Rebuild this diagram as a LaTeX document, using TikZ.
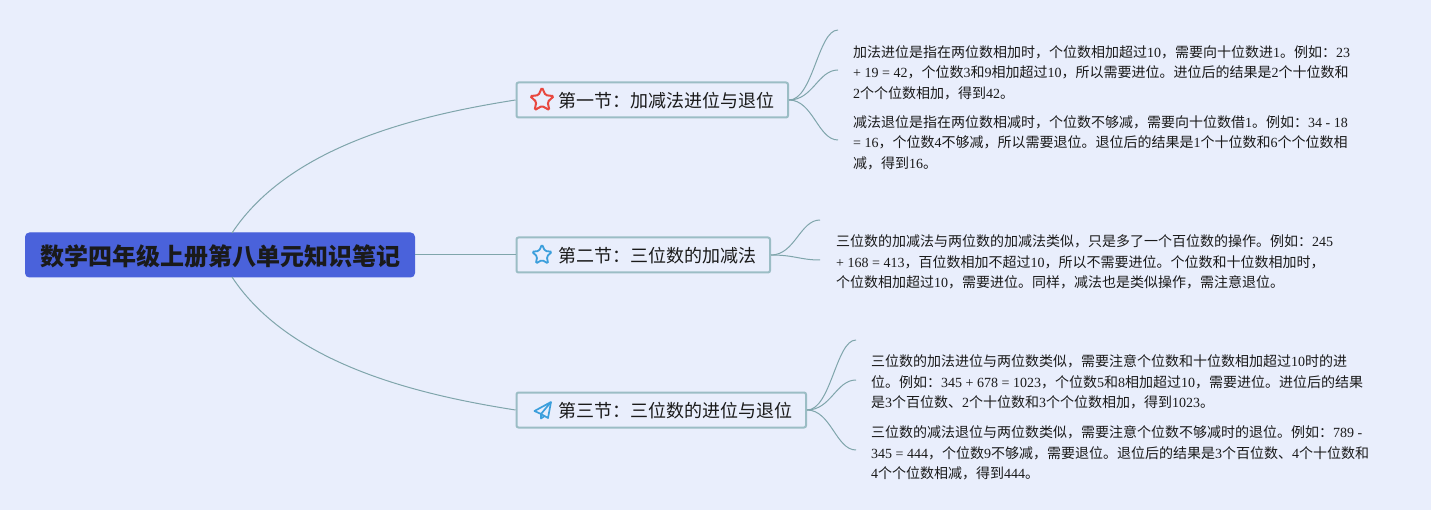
\documentclass[tikz,border=0pt]{standalone}
\usepackage{fontspec}
\setmainfont{Noto Sans CJK SC}
\newfontfamily\latinfont{Liberation Serif}
\newcommand{\latin}[1]{{\latinfont #1}}
\usepackage{xcolor}
\usepackage{tikz}
\usetikzlibrary{shapes.geometric}
\definecolor{pagebg}{HTML}{E9EEFC}
\definecolor{rootblue}{HTML}{4A62DB}
\definecolor{boxline}{HTML}{9BBDC5}
\definecolor{linkline}{HTML}{7FA5AB}
\definecolor{inkdark}{HTML}{1A1A1A}
\definecolor{starred}{HTML}{E8483F}
\definecolor{iconblue}{HTML}{3C9FDC}
\tikzset{
  root/.style = {rectangle, rounded corners=4pt, fill=rootblue, draw=rootblue, line width=1pt, minimum width=389pt, minimum height=44pt, text height=22pt, text depth=0pt, text=inkdark, font=\fontsize{24}{28}\selectfont\bfseries},
  section/.style = {rectangle, rounded corners=2pt, anchor=west, draw=boxline, line width=2pt, fill=pagebg, minimum height=35pt, text height=15.6pt, text depth=0pt, inner xsep=14pt, inner ysep=0pt, text=inkdark, font=\fontsize{18}{22}\selectfont},
  note/.style = {anchor=west, align=left, inner sep=0pt, text=inkdark, font=\fontsize{14}{20.6}\selectfont},
  link/.style = {linkline, line width=1pt},
  staricon/.style = {star, star points=5, star point ratio=2.1, rounded corners=1.5pt, inner sep=0pt, line width=2pt, fill=none}
}

\begin{document}
\begin{tikzpicture}[x=1pt,y=1pt]
\useasboundingbox[fill=pagebg] (0,0) rectangle (1431,-510);

% -- root and sections
\node[root] (R) at (220,-255) {数学四年级上册第八单元知识笔记};
\node[section] (S1) at (515.5,-100) {\hspace{27.5pt}第一节：加减法进位与退位};
\node[section] (S2) at (515.5,-255) {\hspace{27.5pt}第二节：三位数的加减法};
\node[section] (S3) at (515.5,-410) {\hspace{27.5pt}第三节：三位数的进位与退位};

% -- icons
\node[staricon, draw=starred, minimum size=25pt] (I1) at (542,-100) {};
\node[staricon, draw=iconblue, minimum size=21pt, line width=1.8pt] (I2) at (542,-255) {};
\draw[iconblue, line width=1.7pt, line join=round] (551,-402) -- (534.5,-411) -- (541,-414) -- cycle;
\draw[iconblue, line width=1.7pt, line join=round] (551,-402) -- (548,-418) -- (541,-414) -- (541,-418.5) -- (544.5,-416);

% -- free ends
\coordinate (a1) at (838,-30);
\coordinate (a2) at (838,-70);
\coordinate (a3) at (838,-140);
\coordinate (b1) at (820,-220);
\coordinate (b2) at (820,-260);
\coordinate (c1) at (856,-340);
\coordinate (c2) at (856,-380);
\coordinate (c3) at (856,-450);

% -- links
\draw[link] (R.east) -- (S2.west);
\draw[link] (232,-233) .. controls (290,-145) and (420,-115) .. (S1.west);
\draw[link] (232,-277) .. controls (290,-365) and (420,-395) .. (S3.west);

\foreach \e in {a1,a2,a3} {
  \draw[link] (S1.east) .. controls +(24,0) and +(-20,0) .. (\e);
}
\foreach \e in {b1,b2} {
  \draw[link] (S2.east) .. controls +(24,0) and +(-20,0) .. (\e);
}
\foreach \e in {c1,c2,c3} {
  \draw[link] (S3.east) .. controls +(24,0) and +(-20,0) .. (\e);
}

% -- notes
\node[note] (T1) at (853,-72.5) {加法进位是指在两位数相加时，个位数相加超过\latin{10}，需要向十位数进\latin{1}。例如：\latin{23}\\
\latin{+ 19 = 42}，个位数\latin{3}和\latin{9}相加超过\latin{10}，所以需要进位。进位后的结果是\latin{2}个十位数和\\
\latin{2}个个位数相加，得到\latin{42}。};
\node[note] (T2) at (853,-142.5) {减法退位是指在两位数相减时，个位数不够减，需要向十位数借\latin{1}。例如：\latin{34 - 18}\\
\latin{= 16}，个位数\latin{4}不够减，所以需要退位。退位后的结果是\latin{1}个十位数和\latin{6}个个位数相\\
减，得到\latin{16}。};
\node[note] (T3) at (836,-262) {三位数的加减法与两位数的加减法类似，只是多了一个百位数的操作。例如：\latin{245}\\
\latin{+ 168 = 413}，百位数相加不超过\latin{10}，所以不需要进位。个位数和十位数相加时，\\
个位数相加超过\latin{10}，需要进位。同样，减法也是类似操作，需注意退位。};
\node[note] (T4) at (871,-382) {三位数的加法进位与两位数类似，需要注意个位数和十位数相加超过\latin{10}时的进\\
位。例如：\latin{345 + 678 = 1023}，个位数\latin{5}和\latin{8}相加超过\latin{10}，需要进位。进位后的结果\\
是\latin{3}个百位数、\latin{2}个十位数和\latin{3}个个位数相加，得到\latin{1023}。};
\node[note] (T5) at (871,-453) {三位数的减法退位与两位数类似，需要注意个位数不够减时的退位。例如：\latin{789 -}\\
\latin{345 = 444}，个位数\latin{9}不够减，需要退位。退位后的结果是\latin{3}个百位数、\latin{4}个十位数和\\
\latin{4}个个位数相减，得到\latin{444}。};

\end{tikzpicture}
\end{document}
